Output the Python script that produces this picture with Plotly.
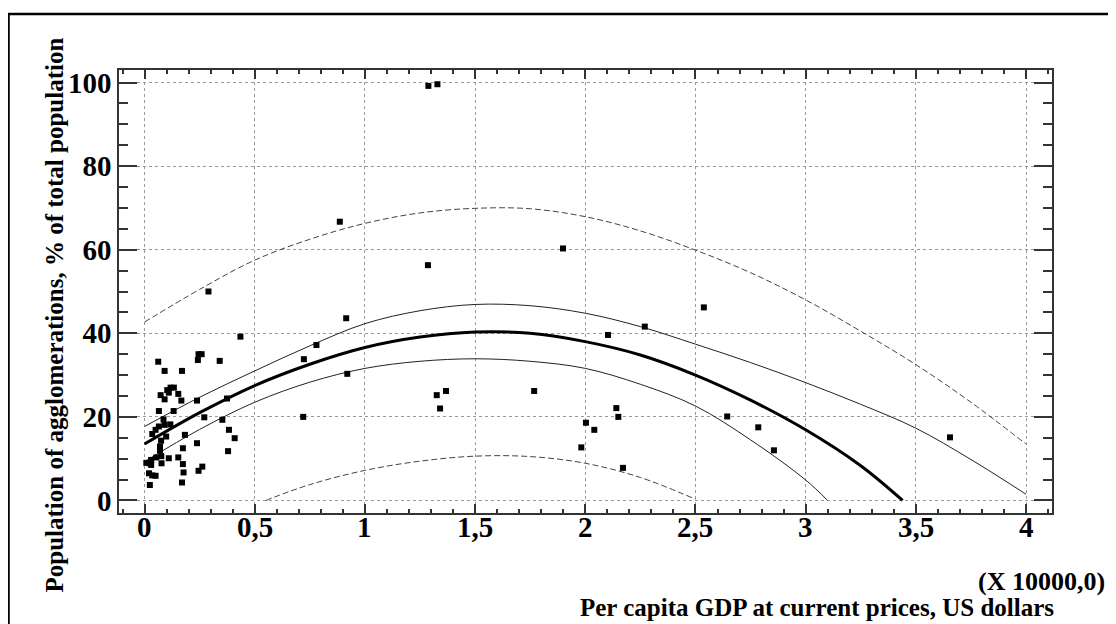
import plotly.graph_objects as go

# scatter points: per capita GDP (x 10000 USD) vs share of agglomerations (%)
gdp = [
    0.435, 0.062, 0.091, 0.170, 0.242, 0.245, 0.259, 0.341, 0.073, 0.091,
    0.103, 0.118, 0.133, 0.110, 0.153, 0.167, 0.238, 0.374, 0.065, 0.132,
    0.086, 0.091, 0.065, 0.050, 0.035, 0.117, 0.098, 0.075, 0.183, 0.271,
    0.353, 0.383, 0.409, 0.238, 0.174, 0.379, 0.070, 0.070, 0.076, 0.053,
    0.030, 0.008, 0.030, 0.023, 0.077, 0.110, 0.153, 0.174, 0.177, 0.020,
    0.035, 0.050, 0.024, 0.170, 0.245, 0.262, 0.290, 0.886, 1.288, 1.329,
    1.286, 0.915, 0.780, 0.723, 0.920, 0.720, 1.326, 1.368, 1.341, 1.768,
    1.899, 2.538, 2.270, 2.103, 2.141, 2.150, 2.003, 2.041, 1.982, 2.171,
    2.644, 2.785, 2.856, 3.655,
]
share = [
    39.2, 33.2, 31.0, 31.0, 33.6, 35.0, 35.0, 33.4, 25.2, 24.2,
    26.4, 27.0, 27.0, 25.8, 25.5, 23.9, 23.9, 24.4, 21.4, 21.4,
    19.4, 18.1, 17.7, 16.9, 15.9, 18.2, 15.3, 14.3, 15.7, 19.9,
    19.3, 16.9, 14.9, 13.7, 12.5, 11.8, 12.9, 11.9, 10.6, 10.3,
    9.7, 9.0, 8.5, 8.9, 8.9, 10.1, 10.3, 8.7, 6.7, 6.5,
    6.0, 5.9, 3.7, 4.3, 7.1, 8.1, 50.0, 66.7, 99.2, 99.6,
    56.3, 43.6, 37.2, 33.8, 30.3, 20.0, 25.2, 26.2, 22.0, 26.2,
    60.3, 46.2, 41.6, 39.6, 22.1, 20.0, 18.6, 16.9, 12.7, 7.8,
    20.1, 17.5, 12.0, 15.1,
]

# fitted curve
fit_x = [0, 0.25, 0.5, 0.75, 1.0, 1.25, 1.5, 1.75, 2.0, 2.25, 2.5, 2.75, 3.0, 3.25, 3.44]
fit_y = [13.5, 21.0, 27.5, 32.6, 36.6, 39.1, 40.3, 40.0, 38.0, 34.8, 30.0, 24.0, 16.9, 8.3, 0.0]

# confidence limits
ci_up_x = [0, 0.25, 0.5, 0.75, 1.0, 1.25, 1.5, 1.75, 2.0, 2.25, 2.5, 2.75, 3.0, 3.25, 3.5, 3.75, 4.0]
ci_up_y = [17.7, 24.7, 31.0, 37.0, 42.3, 45.4, 46.9, 46.6, 44.8, 41.6, 37.4, 33.0, 28.2, 23.0, 17.3, 9.8, 1.5]
ci_lo_x = [0, 0.25, 0.5, 0.75, 1.0, 1.25, 1.5, 1.75, 2.0, 2.25, 2.5, 2.75, 3.0, 3.1]
ci_lo_y = [9.3, 17.0, 23.5, 28.3, 31.6, 33.3, 33.9, 33.3, 31.6, 27.8, 22.6, 14.5, 4.9, 0.0]

# prediction limits
pi_up_x = [0, 0.25, 0.5, 0.75, 1.0, 1.25, 1.5, 1.75, 2.0, 2.25, 2.5, 2.75, 3.0, 3.25, 3.5, 3.75, 4.0]
pi_up_y = [42.7, 50.5, 57.5, 62.5, 66.3, 68.8, 69.9, 69.8, 67.9, 64.5, 59.9, 54.5, 48.0, 40.5, 32.5, 23.5, 13.5]
pi_lo_x = [0.55, 0.75, 1.0, 1.25, 1.5, 1.75, 2.0, 2.25, 2.5]
pi_lo_y = [0.0, 3.8, 7.2, 9.4, 10.6, 10.5, 8.9, 5.5, 0.3]

x_ticks = [0, 0.5, 1, 1.5, 2, 2.5, 3, 3.5, 4]
x_labels = ["0", "0,5", "1", "1,5", "2", "2,5", "3", "3,5", "4"]
y_ticks = [0, 20, 40, 60, 80, 100]

SERIF = "Liberation Serif"
OFF = 8  # page body margin shifts the figure

fig = go.Figure()
for xs, ys in [(pi_up_x, pi_up_y), (pi_lo_x, pi_lo_y)]:
    fig.add_trace(go.Scatter(x=xs, y=ys, mode="lines", line_shape="spline",
                             line=dict(color="#444444", width=1, dash="6px,3px")))
for xs, ys in [(ci_up_x, ci_up_y), (ci_lo_x, ci_lo_y)]:
    fig.add_trace(go.Scatter(x=xs, y=ys, mode="lines", line_shape="spline",
                             line=dict(color="#222222", width=1)))
fig.add_trace(go.Scatter(x=fit_x, y=fit_y, mode="lines", line_shape="spline",
                         line=dict(color="black", width=3)))
fig.add_trace(go.Scatter(x=gdp, y=share, mode="markers",
                         marker=dict(symbol="square", size=6, color="black")))

# plot area in screen pixels: left 119, right 1052, top 70, bottom 513
W, H = 1116 - 2 * OFF, 624 - OFF
ml, mt = 119 - OFF, 70 - OFF
pw, ph = 933, 443
mr, mb = W - ml - pw, H - mt - ph


def px(x):
    return (x - OFF - ml) / pw


def py(y):
    return (mt + ph - (y - OFF)) / ph


tick_font = dict(family=SERIF, size=29, color="black", weight="bold")
axis_common = dict(
    showline=True, linecolor="#333333", linewidth=1.5, mirror="ticks",
    ticks="inside", tickcolor="#333333", tickwidth=1.5,
    showgrid=True, gridcolor="#999999", gridwidth=1, griddash="3px,3px",
    zeroline=False, tickfont=tick_font,
)
fig.update_xaxes(range=[-0.116, 4.118], tickvals=x_ticks, showticklabels=False, ticklen=9,
                 minor=dict(dtick=0.1, tick0=0, ticks="inside", ticklen=4,
                            tickcolor="#333333", showgrid=False),
                 **axis_common)
fig.update_yaxes(range=[-3.0, 103.0], tickvals=y_ticks, ticklen=18, ticklabelstandoff=0,
                 minor=dict(dtick=5, tick0=0, ticks="inside", ticklen=9,
                            tickcolor="#333333", showgrid=False),
                 **axis_common)

# x tick labels placed under the axis
for v, lab in zip(x_ticks, x_labels):
    fig.add_annotation(text=lab, xref="x", yref="paper", x=v, y=py(527),
                       yanchor="middle", showarrow=False, font=tick_font)

title_font = dict(family=SERIF, size=25, color="black", weight="bold")
fig.add_annotation(text="Population of agglomerations, % of total population",
                   xref="paper", yref="paper", x=px(38), y=py(315),
                   textangle=-90, showarrow=False, font=title_font)
fig.add_annotation(text="Per capita GDP at current prices, US dollars",
                   xref="paper", yref="paper", x=px(1056), y=py(607),
                   xanchor="right", yanchor="middle", showarrow=False, font=title_font)
fig.add_annotation(text="(X 10000,0)",
                   xref="paper", yref="paper", x=px(1107), y=py(581),
                   xanchor="right", yanchor="middle", showarrow=False,
                   font=dict(family=SERIF, size=26, color="black", weight="bold"))

# outer frame
fig.add_shape(type="rect", xref="paper", yref="paper",
              x0=px(8.5), x1=px(1130), y0=py(640), y1=py(14),
              line=dict(color="black", width=2.5), layer="above")

fig.update_layout(
    width=W, height=H,
    margin=dict(l=ml, r=mr, t=mt, b=mb),
    paper_bgcolor="white", plot_bgcolor="white",
    showlegend=False,
)
fig.write_html("out.html")
